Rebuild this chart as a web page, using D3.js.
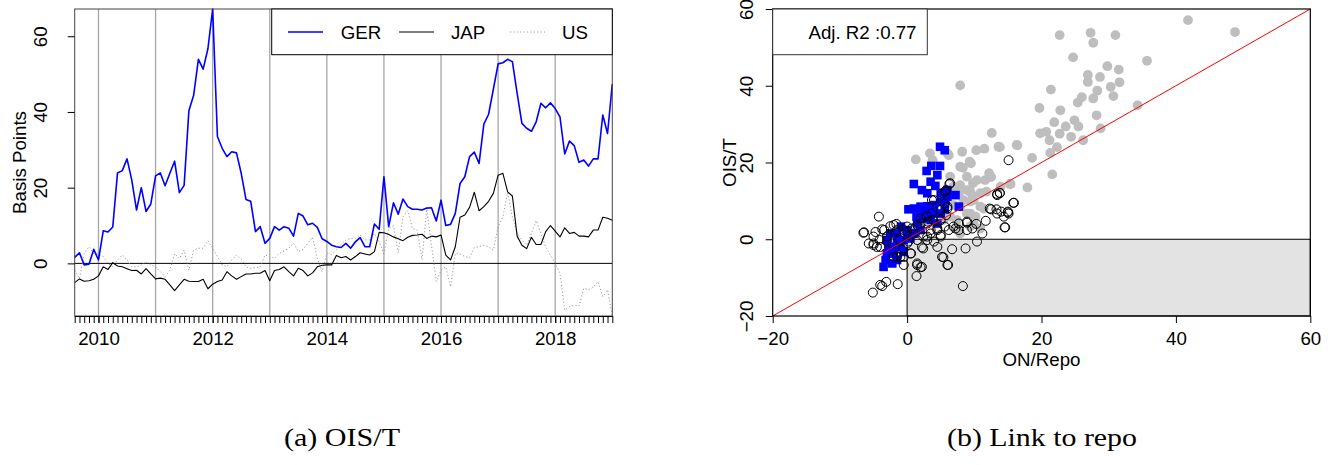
<!DOCTYPE html>
<html><head><meta charset="utf-8">
<script src="https://cdn.jsdelivr.net/npm/d3@7"></script>
<style>body{margin:0;background:#fff}svg{display:block}</style>
</head><body>
<svg id="c" width="1335" height="465"></svg>
<script>
// ---------- data: panel (a) monthly series, Aug 2009 .. Jan 2019 ----------
const startYear = 2009, startMonth = 8; // first observation: Aug 2009
const GER = [1.6,2.8,-0.4,-0.2,3.7,0.9,8.6,8.3,9.6,23.9,24.5,27.6,22.0,14.1,20.0,13.7,15.7,23.1,23.9,20.5,23.8,27.0,18.7,20.6,40.3,44.4,53.9,51.3,56.7,67.2,
  33.5,30.4,28.2,29.5,29.2,23.8,16.9,16.4,8.4,9.7,5.3,6.6,9.7,8.8,9.7,9.3,7.2,13.2,12.5,10.2,10.6,9.5,6.5,5.8,4.8,4.4,4.2,
  5.3,4.0,5.7,6.8,4.4,4.4,10.4,9.0,22.9,9.7,16.0,13.0,17.0,15.0,14.3,14.3,14.1,14.6,14.7,11.2,16.7,10.0,10.3,13.2,21.1,22.9,28.2,
  29.4,26.4,36.8,39.4,46.0,52.7,53.0,53.9,53.3,44.9,37.0,35.7,34.9,37.4,42.3,41.1,42.4,40.9,38.7,28.9,32.3,31.1,26.7,27.3,25.7,27.6,27.6,39.2,34.3,47.4];
const JAP = [-5.1,-4.1,-4.7,-4.6,-4.2,-3.3,-0.9,-1.6,0.2,-0.7,
  -0.9,-1.4,-1.9,-1.8,-2.8,-1.4,-2.8,-4.1,-3.9,-4.2,
  -5.7,-7.2,-5.7,-4.2,-4.7,-4.8,-4.8,-4.2,-6.7,-5.5,
  -4.8,-4.4,-2.2,-3.3,-4.2,-3.5,-2.8,-2.8,-2.6,-2.6,
  -1.9,-4.6,-1.9,-1.6,-0.9,-2.2,-3.3,-1.3,-1.9,-3.3,
  -2.5,-0.9,-0.5,-0.4,-0.4,2.1,1.5,1.8,0.9,1.8,
  2.8,2.5,2.2,3.1,8.2,8.1,7.6,7.0,6.5,6.0,
  6.9,7.4,7.5,7.7,6.6,7.2,7.0,7.5,2.2,0.9,
  4.4,12.2,12.8,14.8,18.8,13.9,15.0,16.4,18.5,23.3,
  23.8,18.9,17.8,7.2,4.8,3.9,6.9,5.0,5.0,8.4,
  10.0,8.5,7.0,9.4,7.9,8.2,7.2,7.2,7.0,8.8,
  8.8,12.2,11.9,11.4];
const US = [-1.8,-4.0,2.6,4.4,2.6,2.5,1.8,0.0,-0.9,0.9,
  2.2,0.9,-0.9,-0.9,-0.4,0.4,-0.4,-0.9,-2.2,-3.5,
  -1.8,2.6,1.3,3.5,-1.8,3.5,4.0,4.0,6.0,4.0,
  1.8,-0.4,-0.9,0.9,2.2,1.1,-0.9,-1.3,-1.1,-0.9,
  2.2,1.8,1.3,2.6,3.3,4.0,5.3,3.1,3.7,5.3,
  6.9,1.3,-2.2,2.6,2.4,3.5,5.0,6.2,6.6,6.6,
  7.5,6.2,6.2,7.9,5.7,2.6,9.3,9.9,2.8,12.3,
  13.9,9.2,8.8,1.0,14.3,4.8,-4.8,-1.8,-0.9,-6.2,
  2.6,2.5,1.8,1.5,4.2,4.4,4.8,4.4,3.5,9.7,
  12.3,18.7,12.3,7.9,6.2,4.8,7.9,11.3,7.9,4.4,
  2.2,0.0,-2.6,-12.3,-11.4,-11.0,-11.3,-6.6,-7.0,-6.3,
  -4.8,-8.8,-7.0,-13.9];
const seriesNames = ["GER","JAP","US"];
const yearLabels = [2010,2012,2014,2016,2018];
const gridYears = [2010,2011,2012,2013,2014,2015,2016,2017,2018];
const yTicksA = [0,20,40,60];
const yTitleA = "Basis Points";
const captionA = "(a) OIS/T";

// ---------- data: panel (b) scatter ON/Repo (x) vs OIS/T (y) ----------
const grayPts = [[22.7,53.2],[27.3,53.8],[31.0,53.2],[27.7,51.2],[24.7,47.4],[29.8,45.1],[31.5,44.2],[26.9,42.8],[28.7,42.3],[26.9,41.0],[30.3,39.7],[21.4,39.0],[28.3,38.7],[7.9,40.1],[30.7,37.3],[27.7,36.7],[26.0,37.0],[25.4,35.6],[19.7,34.2],[22.8,33.6],[28.2,32.3],[21.9,30.5],[24.9,31.0],[23.6,29.4],[25.5,29.4],[19.8,27.6],[20.7,28.0],[22.7,27.5],[24.4,26.7],[21.2,25.8],[28.8,28.9],[26.2,25.8],[21.3,22.5],[22.3,24.0],[12.6,27.7],[16.4,24.5],[13.8,24.0],[11.5,23.6],[10.3,23.2],[8.2,22.8],[9.3,20.2],[8.3,18.6],[6.2,21.9],[3.8,20.6],[1.3,20.8],[18.6,21.2],[21.6,16.9],[12.2,17.2],[12.5,16.2],[11.6,15.4],[9.8,14.6],[7.9,14.1],[6.4,16.3],[17.9,13.5],[13.9,13.7],[15.3,14.4],[10.9,12.0],[9.7,11.5],[8.4,10.2],[6.9,8.9],[11.4,8.0],[41.8,57.1],[48.8,54.0],[35.7,46.5],[31.6,40.9],[34.3,34.9],[9.4,12.4],[11.8,12.4],[7.7,12.0],[6.0,11.1],[9.4,9.8],[10.9,8.5],[8.9,6.7],[7.4,5.0],[6.0,5.9],[10.2,5.9],[9.4,3.3],[7.9,1.5],[10.9,2.8],[5.4,5.0],[3.4,22.4],[6.0,22.4],[9.5,19.8],[7.9,18.9],[8.9,16.3],[10.4,15.4],[6.9,13.7],[8.9,12.8],[9.9,10.2],[7.9,8.5],[9.4,6.7],[6.4,5.9],[9.9,4.1],[7.4,3.3],[16.3,24.6],[13.6,24.1],[15.4,14.4]];
const bluePts = [[4.9,24.1],[5.6,23.2],[3.6,19.1],[4.9,19.1],[2.9,17.8],[4.5,16.7],[1.0,14.4],[3.5,15.0],[4.2,13.9],[2.2,12.8],[3.0,12.0],[6.0,12.8],[7.2,11.5],[0.2,7.8],[1.0,8.0],[2.0,8.5],[3.0,8.6],[4.0,8.9],[5.0,9.8],[5.7,10.2],[7.7,8.5],[1.4,5.9],[2.5,5.4],[3.5,5.0],[4.5,4.1],[5.0,6.7],[5.6,7.8],[-0.9,3.3],[0.0,2.4],[1.0,1.5],[2.0,2.4],[-1.5,1.5],[-2.5,1.5],[-3.0,-0.2],[-2.2,-2.0],[-3.0,-3.7],[-2.0,-3.7],[-3.2,-5.4],[-3.5,-7.2],[-2.2,-6.3],[-1.5,-5.4],[-1.0,-2.0],[-0.5,-0.2],[0.0,1.1],[0.5,0.2],[-0.5,-3.3],[3.0,6.7],[4.0,6.7],[1.5,4.1],[2.2,7.2],[-1.5,-0.2],[-2.7,-2.4],[6.0,11.1],[5.0,12.0]];
const openPts = [[-6.4,1.8],[-5.7,-1.1],[-5.1,-13.9],[-4.2,5.9],[-4.7,1.9],[-4.5,-2.0],[-3.7,-12.2],[-3.1,-11.1],[-1.4,-11.7],[-3.4,2.4],[-2.0,3.7],[-1.5,2.4],[-0.5,-6.7],[-1.0,-4.6],[1.5,-6.3],[2.2,-7.2],[1.4,-9.6],[0.5,-3.7],[2.2,-2.1],[4.5,-2.0],[5.4,-4.7],[6.1,-6.7],[6.7,-2.6],[8.3,-12.2],[8.7,-2.4],[10.4,-0.6],[8.9,4.6],[8.9,2.4],[6.9,3.3],[7.7,2.4],[11.2,1.5],[11.7,4.8],[12.5,7.8],[13.4,11.8],[13.8,12.0],[13.4,6.7],[14.4,5.9],[15.1,6.7],[14.6,3.1],[15.8,9.5],[15.1,20.6],[10.3,4.0],[6.3,14.4],[5.7,12.4],[3.7,10.2],[5.6,9.3],[6.0,8.0],[5.0,7.6],[3.7,6.7],[2.9,6.0],[2.0,5.4],[1.5,3.7],[3.0,4.1],[3.9,5.0],[5.0,5.0],[5.6,3.3],[4.5,2.4],[3.5,1.5],[2.4,0.7],[1.0,1.5],[0.2,-0.6],[-1.1,-0.2],[-2.2,-1.1],[-3.0,-0.4],[-0.5,2.4],[0.0,3.3],[-1.5,-4.6],[-0.5,-4.6],[5.0,1.1],[4.0,-0.6],[3.0,-0.2],[6.2,2.4],[5.8,6.3],[-4.1,-0.2],[-5.0,-1.5],[-6.5,1.7],[-5.0,0.7],[-3.7,2.6],[-1.6,4.0],[-5.0,-1.1],[-4.0,-2.0],[-0.7,-2.8],[-2.0,-4.6],[0.6,-3.7],[1.5,-6.7],[2.0,-7.3],[-4.0,-11.9],[2.4,-2.4],[5.2,-4.6],[6.0,-6.7],[2.0,4.1],[3.1,4.6],[4.0,10.2],[5.2,12.0],[6.0,8.5],[5.8,12.8],[6.4,14.6],[7.2,2.8],[7.7,4.1],[8.9,4.3],[9.7,2.8],[4.5,2.8],[5.0,0.7],[-2.5,3.4],[-3.0,0.7],[-1.7,2.0],[0.0,2.0],[0.7,2.8],[1.5,-0.2],[3.0,0.7],[3.5,2.4],[0.0,-1.1],[13.8,12.1],[13.4,11.5],[15.9,9.5],[12.3,8.0],[13.3,7.8],[14.0,7.2],[15.0,7.2],[15.0,7.0],[14.5,3.1]];
const xDomainB = [-20,60], yDomainB = [-20,60];
const xTicksB = [-20,0,20,40,60], yTicksB = [-20,0,20,40,60];
const fitIntercept = 0, fitSlope = 1;
const r2Label = "Adj. R2 :0.77";
const xTitleB = "ON/Repo", yTitleB = "OIS/T";
const captionB = "(b) Link to repo";

// ---------- drawing ----------
const FONT = "'Liberation Sans', Arial, Helvetica, sans-serif";
const FS = 18.7;
const svg = d3.select("#c");

function styleAxis(g){
  g.attr("font-family", FONT).attr("font-size", FS);
  g.selectAll(".tick line").attr("stroke","#000");
  g.selectAll(".tick text").attr("fill","#000");
}

// ===== Panel (a) =====
const A = {x0:74.7, x1:612.3, y0:9, y1:316};
const tA = GER.map((d,i)=> startYear + (startMonth-1)/12 + i/12);
const xA = d3.scaleLinear().domain(d3.extent(tA)).range([A.x0, A.x1]);
const yA = d3.scaleLinear().domain(d3.extent(GER.concat(JAP, US))).range([A.y1, A.y0]);
const gA = svg.append("g");

gA.selectAll("line.grid").data(gridYears).join("line")
  .attr("x1", d=>xA(d)).attr("x2", d=>xA(d)).attr("y1", A.y0).attr("y2", A.y1)
  .attr("stroke","#a6a6a6").attr("stroke-width",1.3);
gA.append("line").attr("x1",A.x0).attr("x2",A.x1).attr("y1",yA(0)).attr("y2",yA(0))
  .attr("stroke","#000").attr("stroke-width",1);

const lineA = d3.line().x((d,i)=>xA(tA[i])).y(d=>yA(d));
const styles = {
  GER:{data:GER, stroke:"#0000ff", w:1.6, dash:null},
  JAP:{data:JAP, stroke:"#000", w:1.1, dash:null},
  US:{data:US, stroke:"#9a9a9a", w:1, dash:"1.2,2.2"}
};
["US","JAP","GER"].forEach(k=>{
  const s = styles[k];
  gA.append("path").datum(s.data).attr("d", lineA).attr("fill","none")
    .attr("stroke", s.stroke).attr("stroke-width", s.w)
    .attr("stroke-dasharray", s.dash).attr("stroke-linejoin","round");
});

gA.append("rect").attr("x",A.x0).attr("y",A.y0).attr("width",A.x1-A.x0).attr("height",A.y1-A.y0)
  .attr("fill","none").attr("stroke","#444").attr("stroke-width",1);

const axMonths = gA.append("g").attr("transform",`translate(0,${A.y1})`)
  .call(d3.axisBottom(xA).tickValues(tA).tickSize(7).tickSizeOuter(0).tickFormat(""));
axMonths.select(".domain").attr("stroke","#000");
styleAxis(axMonths);
const axYears = gA.append("g").attr("transform",`translate(0,${A.y1})`)
  .call(d3.axisBottom(xA).tickValues(yearLabels).tickSize(7).tickFormat(d3.format("d")));
axYears.select(".domain").remove();
styleAxis(axYears);
axYears.selectAll(".tick text").attr("y",29).attr("dy",0);

const axLA = gA.append("g").attr("transform",`translate(${A.x0},0)`)
  .call(d3.axisLeft(yA).tickValues(yTicksA).tickSize(7).tickFormat(d3.format("d")));
axLA.select(".domain").remove();
styleAxis(axLA);
axLA.selectAll(".tick text").attr("transform","rotate(-90)").attr("x",0).attr("y",-27.7)
  .attr("dy",0).attr("text-anchor","middle");

gA.append("text").attr("transform",`translate(26,${(A.y0+A.y1)/2}) rotate(-90)`)
  .attr("text-anchor","middle").attr("font-family",FONT).attr("font-size",FS).text(yTitleA);

const legA = gA.append("g");
legA.append("rect").attr("x",271.7).attr("y",A.y0).attr("width",A.x1-271.7).attr("height",45.7)
  .attr("fill","#fff").attr("stroke","#000").attr("stroke-width",1);
const legPos = [{lx:288, tx:340.7},{lx:399, tx:451},{lx:510, tx:562}];
seriesNames.forEach((n,i)=>{
  const s = styles[n], p = legPos[i];
  legA.append("line").attr("x1",p.lx).attr("x2",p.lx+35).attr("y1",32).attr("y2",32)
    .attr("stroke",s.stroke).attr("stroke-width",s.w).attr("stroke-dasharray",s.dash);
  legA.append("text").attr("x",p.tx).attr("y",39).attr("font-family",FONT).attr("font-size",FS).text(n);
});

svg.append("text").attr("x",342).attr("y",446).attr("text-anchor","middle")
  .attr("font-family","'Liberation Serif', 'DejaVu Serif', serif").attr("font-size",25)
  .attr("textLength",116).attr("lengthAdjust","spacingAndGlyphs").text(captionA);

// ===== Panel (b) =====
const B = {x0:772.7, x1:1310.3, y0:9, y1:316};
const xB = d3.scaleLinear().domain(xDomainB).range([B.x0, B.x1]);
const yB = d3.scaleLinear().domain(yDomainB).range([B.y1, B.y0]);
const gB = svg.append("g");

gB.append("rect").attr("x",xB(0)).attr("y",yB(0)).attr("width",xB(xDomainB[1])-xB(0))
  .attr("height",yB(yDomainB[0])-yB(0)).attr("fill","#e3e3e3").attr("stroke","#000").attr("stroke-width",1);

gB.selectAll("circle.g").data(grayPts).join("circle")
  .attr("cx",d=>xB(d[0])).attr("cy",d=>yB(d[1])).attr("r",4.9).attr("fill","#bebebe");
const sq = 8.6;
gB.selectAll("rect.b").data(bluePts).join("rect")
  .attr("x",d=>xB(d[0])-sq/2).attr("y",d=>yB(d[1])-sq/2).attr("width",sq).attr("height",sq).attr("fill","#0000ff");
gB.selectAll("circle.o").data(openPts).join("circle")
  .attr("cx",d=>xB(d[0])).attr("cy",d=>yB(d[1])).attr("r",4.5)
  .attr("fill","none").attr("stroke","#000").attr("stroke-width",1);

gB.append("line").attr("x1",xB(xDomainB[0])).attr("y1",yB(fitIntercept+fitSlope*xDomainB[0]))
  .attr("x2",xB(xDomainB[1])).attr("y2",yB(fitIntercept+fitSlope*xDomainB[1]))
  .attr("stroke","#ff0000").attr("stroke-width",1);

gB.append("rect").attr("x",B.x0).attr("y",B.y0).attr("width",B.x1-B.x0).attr("height",B.y1-B.y0)
  .attr("fill","none").attr("stroke","#000").attr("stroke-width",1.2);

const axBB = gB.append("g").attr("transform",`translate(0,${B.y1})`)
  .call(d3.axisBottom(xB).tickValues(xTicksB).tickSize(7).tickSizeOuter(0).tickFormat(d=>d<0?"\u2212"+Math.abs(d):d));
axBB.select(".domain").remove();
styleAxis(axBB);
axBB.selectAll(".tick text").attr("y",29).attr("dy",0);

const axLB = gB.append("g").attr("transform",`translate(${B.x0},0)`)
  .call(d3.axisLeft(yB).tickValues(yTicksB).tickSize(7).tickSizeOuter(0).tickFormat(d=>d<0?"\u2212"+Math.abs(d):d));
axLB.select(".domain").remove();
styleAxis(axLB);
axLB.selectAll(".tick text").attr("transform","rotate(-90)").attr("x",0).attr("y",-20)
  .attr("dy",0).attr("text-anchor","middle");

gB.append("text").attr("x",(B.x0+B.x1)/2).attr("y",366).attr("text-anchor","middle")
  .attr("font-family",FONT).attr("font-size",FS).text(xTitleB);
gB.append("text").attr("transform",`translate(736,${(B.y0+B.y1)/2}) rotate(-90)`)
  .attr("text-anchor","middle").attr("font-family",FONT).attr("font-size",FS).text(yTitleB);

gB.append("rect").attr("x",B.x0).attr("y",B.y0).attr("width",927.3-B.x0).attr("height",45.7)
  .attr("fill","#fff").attr("stroke","#333").attr("stroke-width",1);
gB.append("text").attr("x",862.5).attr("y",39).attr("text-anchor","middle")
  .attr("font-family",FONT).attr("font-size",FS).text(r2Label);

svg.append("text").attr("x",1042).attr("y",446).attr("text-anchor","middle")
  .attr("font-family","'Liberation Serif', 'DejaVu Serif', serif").attr("font-size",25)
  .attr("textLength",190).attr("lengthAdjust","spacingAndGlyphs").text(captionB);
</script>
</body></html>
